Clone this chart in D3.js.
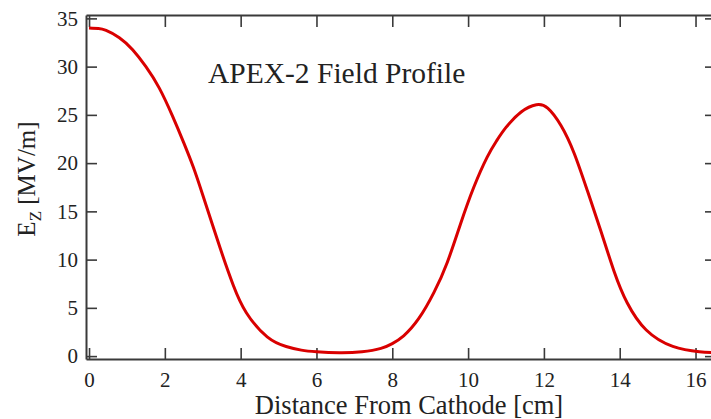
<!DOCTYPE html>
<meta charset="utf-8">
<script src="https://d3js.org/d3.v7.min.js"></script>
<style>
  body { margin: 0; background: #fff; }
  text { font-family: "Liberation Serif", "Times New Roman", serif; fill: #222; }
</style>
<div id="my_dataviz"></div>
<script>

// field profile
var distance = [0, 0.25, 0.45, 0.8, 1.15, 1.5, 1.85, 2.2, 2.5, 2.75, 3.0, 3.45, 3.8, 4.15, 4.7, 5.2, 5.6, 6.0, 6.6, 7.2, 7.7, 8.0, 8.3, 8.7, 9.1, 9.45, 9.8, 10.15, 10.5, 10.75, 11.0, 11.4, 11.8, 12.1, 12.45, 12.8, 13.15, 13.5, 13.85, 14.2, 14.7, 15.4, 16.1, 16.6];
var ez = [34.0, 33.95, 33.75, 33.0, 31.75, 30.0, 27.8, 24.9, 22.1, 19.6, 16.7, 11.3, 7.4, 4.5, 2.0, 1.0, 0.62, 0.45, 0.35, 0.45, 0.8, 1.3, 2.1, 3.9, 6.6, 9.7, 13.7, 17.5, 20.6, 22.3, 23.7, 25.3, 26.05, 25.7, 23.9, 21.0, 17.1, 13.0, 8.8, 5.5, 2.7, 1.0, 0.45, 0.35];

var xTicks = [0, 2, 4, 6, 8, 10, 12, 14, 16];
var yTicks = [0, 5, 10, 15, 20, 25, 30, 35];

var titleText = "APEX-2 Field Profile";
var xLabel = "Distance From Cathode [cm]";

var width = 711, height = 419;
var plot = {left: 86, right: 716, top: 15, bottom: 359};

var svg = d3.select("#my_dataviz")
  .append("svg")
    .attr("width", width)
    .attr("height", height);

var x = d3.scaleLinear()
  .domain([-0.08, 16.54])
  .range([plot.left, plot.right]);

var y = d3.scaleLinear()
  .domain([-0.3, 35.35])
  .range([plot.bottom, plot.top]);

// axes, ticks pointing inwards
function styleAxis(g) {
  g.select(".domain").attr("stroke", "#3a3a3a").attr("stroke-width", 2);
  g.selectAll(".tick line").attr("stroke", "#3a3a3a").attr("stroke-width", 1.6);
  g.selectAll(".tick text")
    .style("font-family", "'Liberation Serif', 'Times New Roman', serif")
    .style("font-size", "21px")
    .attr("fill", "#222");
}

svg.append("g")
  .attr("transform", "translate(0," + plot.bottom + ")")
  .call(d3.axisBottom(x).tickValues(xTicks).tickSizeInner(-11).tickSizeOuter(0).tickPadding(13))
  .call(styleAxis);

svg.append("g")
  .attr("transform", "translate(0," + plot.top + ")")
  .call(d3.axisTop(x).tickValues(xTicks).tickSizeInner(-12).tickSizeOuter(0).tickFormat(""))
  .call(styleAxis);

svg.append("g")
  .attr("transform", "translate(" + plot.left + ",0)")
  .call(d3.axisLeft(y).tickValues(yTicks).tickSizeInner(-11).tickSizeOuter(0).tickPadding(8))
  .call(styleAxis);

svg.append("g")
  .attr("transform", "translate(" + plot.right + ",0)")
  .call(d3.axisRight(y).tickValues(yTicks).tickSizeInner(-11).tickSizeOuter(0).tickFormat(""))
  .call(styleAxis);

// the curve
var data = distance.map(function(d, i) { return {x: d, y: ez[i]}; });

svg.append("path")
  .datum(data)
  .attr("fill", "none")
  .attr("stroke", "#d90000")
  .attr("stroke-width", 3)
  .attr("stroke-linejoin", "round")
  .attr("d", d3.line()
    .x(function(d) { return x(d.x); })
    .y(function(d) { return y(d.y); })
    .curve(d3.curveNatural));

// title inside the plot
svg.append("text")
  .attr("x", 208)
  .attr("y", 83)
  .style("font-size", "29.5px")
  .text(titleText);

// axis titles
svg.append("text")
  .attr("x", 409)
  .attr("y", 414)
  .attr("text-anchor", "middle")
  .style("font-size", "26.5px")
  .text(xLabel);

var yl = svg.append("text")
  .attr("transform", "translate(35,179) rotate(-90)")
  .attr("text-anchor", "middle")
  .style("font-size", "25px");
yl.append("tspan").text("E");
yl.append("tspan").attr("dy", 6).style("font-size", "17px").text("Z");
yl.append("tspan").attr("dy", -6).text(" [MV/m]");

</script>
